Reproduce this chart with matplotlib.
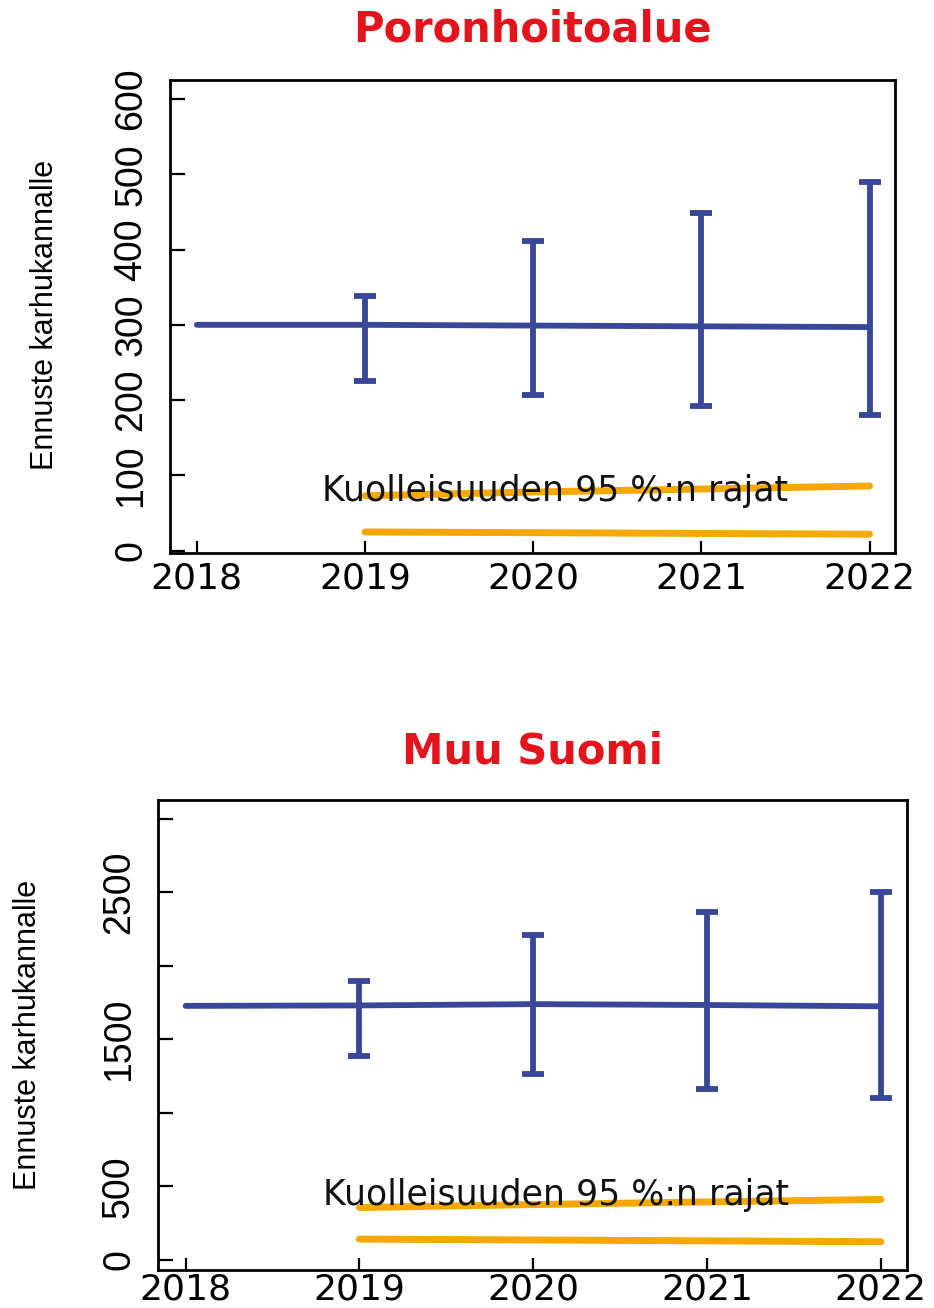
import numpy as np
import matplotlib
matplotlib.use("Agg")
import matplotlib.pyplot as plt

# data
years = [2018, 2019, 2020, 2021, 2022]
years_err = [2019, 2020, 2021, 2022]

poro_mean = [300, 300, 299, 298, 297]
poro_low = [226, 207, 192, 180]
poro_high = [338, 411, 448, 489]
poro_mort_hi = [73, 78, 82, 86]
poro_mort_lo = [25, 24, 23, 22]

muu_mean = [1728, 1731, 1740, 1734, 1725]
muu_low = [1390, 1262, 1163, 1101]
muu_high = [1897, 2209, 2369, 2505]
muu_mort_hi = [355, 375, 393, 410]
muu_mort_lo = [140, 134, 128, 122]

poro_yticks = [0, 100, 200, 300, 400, 500, 600]
poro_ylabels = ["0", "100", "200", "300", "400", "500", "600"]
muu_yticks = [0, 500, 1000, 1500, 2000, 2500, 3000]
muu_ylabels = ["0", "500", "", "1500", "", "2500", ""]

blue = "#38479A"
orange = "#F5A800"
red = "#E3141B"
narrow = ["Liberation Sans Narrow", "Liberation Sans", "DejaVu Sans"]
note = "Kuolleisuuden 95 %:n rajat"

fig = plt.figure(figsize=(9.34, 13.08), dpi=100)


def panel(rect, mean, lo, hi, mlo, mhi, yt, yl, ylim, note_y, ypad, xpad):
    ax = fig.add_axes(rect)
    ax.plot(years, mean, color=blue, lw=4.2, solid_capstyle="round")
    m = np.array(mean[1:])
    ax.errorbar(years_err, m, yerr=[m - np.array(lo), np.array(hi) - m],
                fmt="none", ecolor=blue, elinewidth=4.2, capsize=8, capthick=4.2)
    ax.plot(years_err, mhi, color=orange, lw=5, solid_capstyle="round")
    ax.plot(years_err, mlo, color=orange, lw=5, solid_capstyle="round")
    ax.text(2020.13, note_y, note, ha="center", va="center", fontsize=25,
            family="DejaVu Sans", color="#111111")
    ax.set_xlim(2017.84, 2022.15)
    ax.set_ylim(*ylim)
    ax.set_xticks(years)
    ax.set_xticklabels([str(y) for y in years], fontsize=26, family="DejaVu Sans")
    ax.set_yticks(yt)
    ax.set_yticklabels(yl, rotation=90, va="center", fontsize=27, family=narrow)
    ax.tick_params(axis="y", direction="in", length=11, width=1.6, pad=ypad)
    ax.tick_params(axis="x", direction="in", length=9, width=1.6, pad=xpad)
    for s in ax.spines.values():
        s.set_linewidth(2.0)
    return ax


panel([0.182, 0.5772, 0.776, 0.3616], poro_mean, poro_low, poro_high,
      poro_mort_lo, poro_mort_hi, poro_yticks, poro_ylabels, (-3, 625), 80, 15, 6)
panel([0.169, 0.0291, 0.802, 0.3593], muu_mean, muu_low, muu_high,
      muu_mort_lo, muu_mort_hi, muu_yticks, muu_ylabels, (-70, 3130), 440, 15, 2)

fig.text(0.57, 1 - 30 / 1308, "Poronhoitoalue", ha="center", va="center",
         fontsize=30, fontweight="bold", color=red, family="DejaVu Sans")
fig.text(0.57, 1 - 752 / 1308, "Muu Suomi", ha="center", va="center",
         fontsize=30, fontweight="bold", color=red, family="DejaVu Sans")
fig.text(45 / 934, 1 - 315 / 1308, "Ennuste karhukannalle", rotation=90,
         ha="center", va="center", fontsize=22, family=narrow)
fig.text(28 / 934, 1 - 1035 / 1308, "Ennuste karhukannalle", rotation=90,
         ha="center", va="center", fontsize=22, family=narrow)

fig.savefig("out.png", dpi=100)
